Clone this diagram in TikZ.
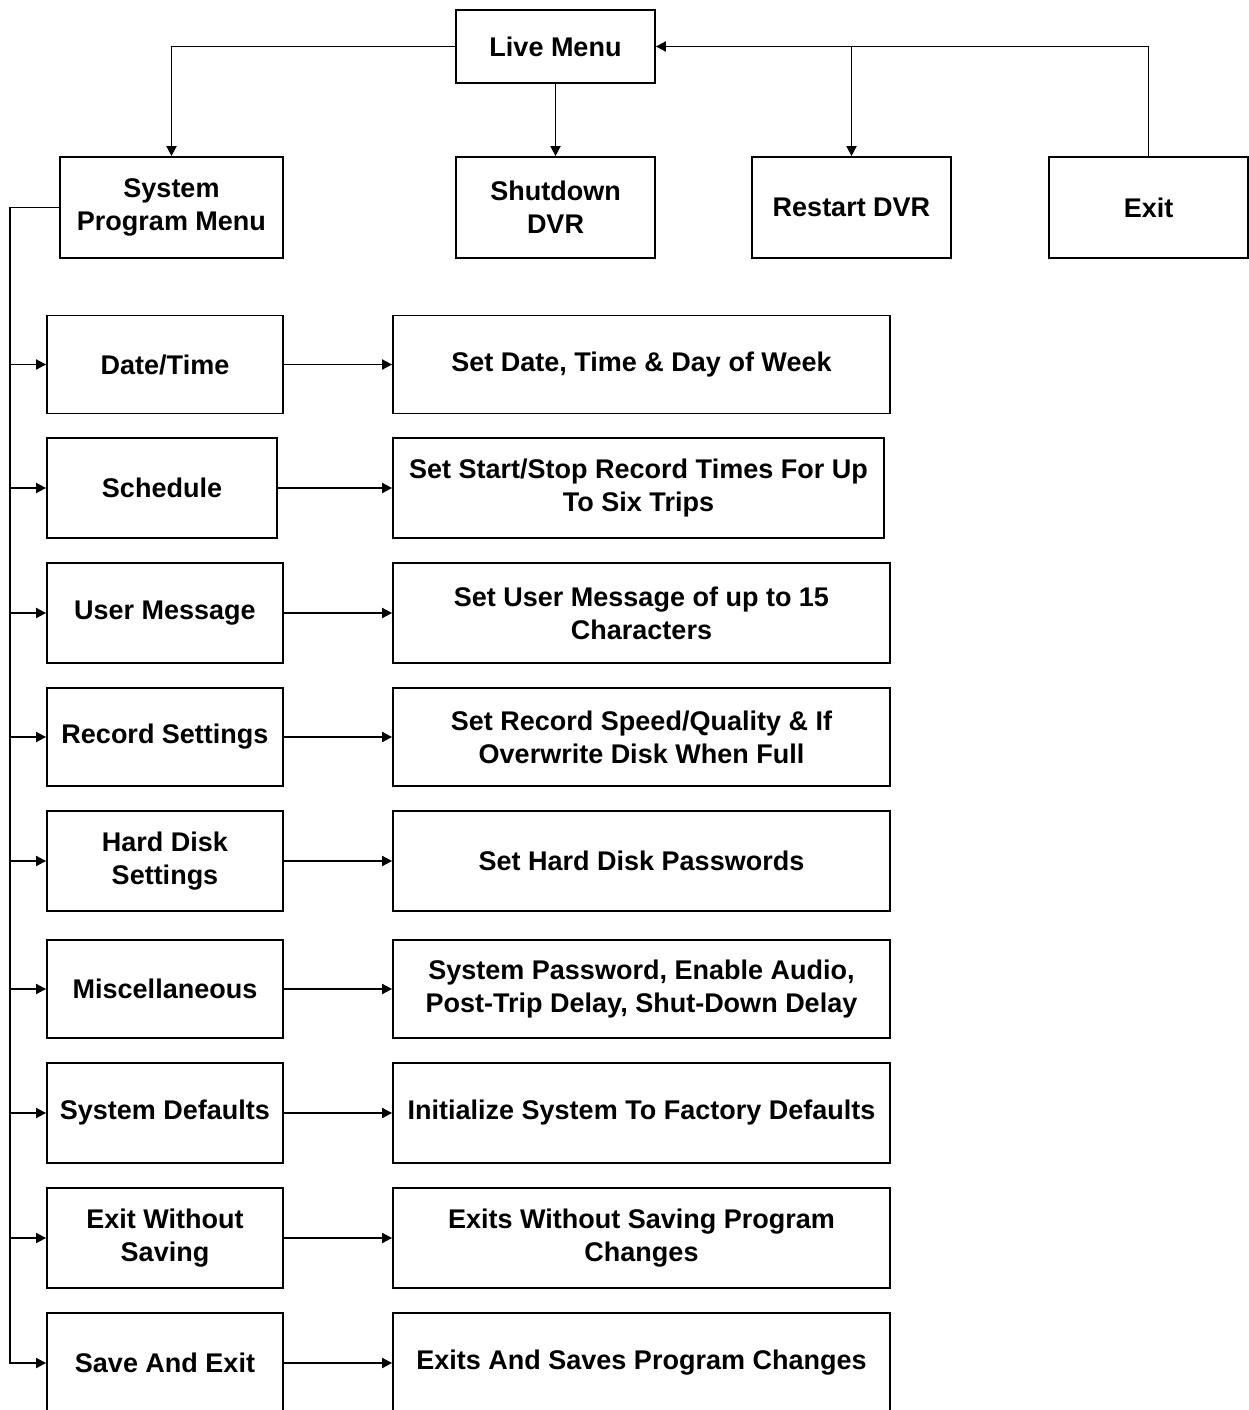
\documentclass[tikz,border=0pt]{standalone}
\usepackage{fontspec}
\setmainfont{Liberation Sans}
\usetikzlibrary{arrows.meta}
\tikzset{
  box/.style={draw, line width=1.8pt, align=center, inner sep=0pt,
    font=\bfseries\fontsize{27}{33}\selectfont},
  lbox/.style={box, minimum width=236pt, minimum height=98pt},
  rbox/.style={box, minimum width=497pt, minimum height=98pt},
  tbox/.style={box, minimum width=199pt, minimum height=101pt},
  arr/.style={line width=1.8pt, -{Triangle[length=10pt,width=10pt]}},
  ln/.style={line width=1.8pt}
}
\begin{document}
\begin{tikzpicture}[x=1pt,y=-1pt]
\clip (0,0) rectangle (1249,1410);
% top
\node[box, minimum width=199pt, minimum height=73pt] (live) at (555.5,46.5) {Live Menu};
\node[tbox, minimum width=223pt] (spm) at (171.5,207.5) {System\\Program Menu};
\node[tbox] (shut) at (555.5,207.5) {Shutdown\\DVR};
\node[tbox] (restart) at (851.5,207.5) {Restart DVR};
\node[tbox] (exit) at (1148.5,207.5) {Exit};
\draw[arr] (live.west) -| (spm.north);
\draw[arr] (live.south) -- (shut.north);
\draw[arr] (exit.north) |- (live.east);
\draw[arr] (restart.north |- live.east) -- (restart.north);
% rows
\node[lbox] (l1) at (165,364.5) {Date/Time};
\node[rbox] (r1) at (641.5,364.5) {Set Date, Time \& Day of Week};
\node[lbox, minimum width=230pt, minimum height=100pt] (l2) at (162,488) {Schedule};
\node[rbox, minimum width=491pt, minimum height=100pt] (r2) at (638.5,488) {Set Start/Stop Record Times For Up\\To Six Trips};
\node[lbox, minimum height=100pt] (l3) at (165,613) {User Message};
\node[rbox, minimum height=100pt] (r3) at (641.5,613) {Set User Message of up to 15\\Characters};
\node[lbox] (l4) at (165,737) {Record Settings};
\node[rbox] (r4) at (641.5,737) {Set Record Speed/Quality \& If\\Overwrite Disk When Full};
\node[lbox, minimum height=100pt] (l5) at (165,861) {Hard Disk\\Settings};
\node[rbox, minimum height=100pt] (r5) at (641.5,861) {Set Hard Disk Passwords};
\node[lbox] (l6) at (165,989) {Miscellaneous};
\node[rbox] (r6) at (641.5,989) {System Password, Enable Audio,\\Post-Trip Delay, Shut-Down Delay};
\node[lbox, minimum height=100pt] (l7) at (165,1113) {System Defaults};
\node[rbox, minimum height=100pt] (r7) at (641.5,1113) {Initialize System To Factory Defaults};
\node[lbox, minimum height=100pt] (l8) at (165,1238) {Exit Without\\Saving};
\node[rbox, minimum height=100pt] (r8) at (641.5,1238) {Exits Without Saving Program\\Changes};
\node[lbox, minimum height=100pt] (l9) at (165,1363) {Save And Exit};
\node[rbox, minimum height=100pt] (r9) at (641.5,1363) {Exits And Saves Program Changes};
\foreach \i in {1,...,9}{
  \draw[arr] (spm.west) -- ++(-49,0) |- (l\i.west);
  \draw[arr] (l\i.east) -- (r\i.west);
}
\end{tikzpicture}
\end{document}
